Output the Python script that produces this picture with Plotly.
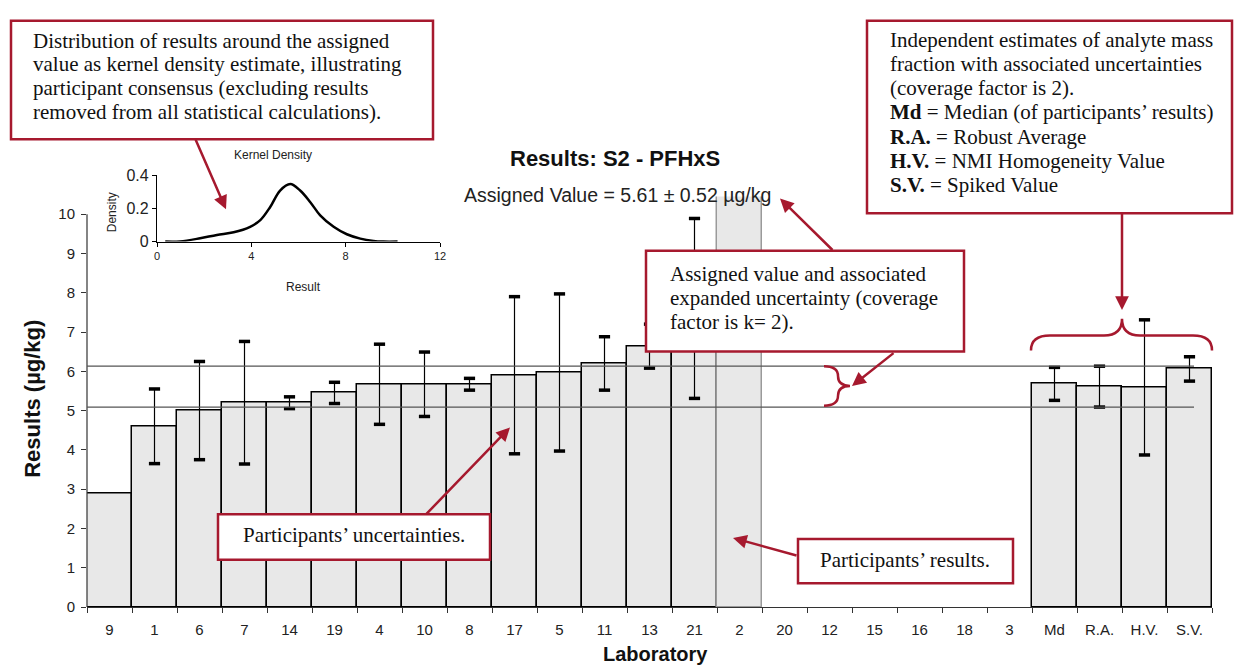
import plotly.graph_objects as go

# ---------------- data ----------------
labs = ["9", "1", "6", "7", "14", "19", "4", "10", "8", "17", "5", "11", "13", "21", "2",
        "20", "12", "15", "16", "18", "3", "Md", "R.A.", "H.V.", "S.V."]
results = [2.9, 4.6, 5.0, 5.2, 5.2, 5.45, 5.67, 5.67, 5.67, 5.9, 5.97, 6.2, 6.64, 7.6, 12.0,
           None, None, None, None, None, None, 5.68, 5.61, 5.59, 6.06]
uncert = [None, 0.95, 1.25, 1.56, 0.15, 0.27, 1.02, 0.82, 0.15, 2.0, 2.0, 0.68, 0.56, 2.29, None,
          None, None, None, None, None, None, 0.42, 0.52, 1.72, 0.31]
assigned_value = 5.61
assigned_unc = 0.52

kd_x = [0.35, 0.98, 1.83, 2.54, 3.25, 3.95, 4.38, 4.8, 5.22, 5.65, 6.07, 6.5, 6.92, 7.49,
        8.05, 8.62, 9.18, 9.6, 10.2]
kd_y = [0.0, 0.001, 0.02, 0.04, 0.056, 0.089, 0.129, 0.208, 0.307, 0.346, 0.307, 0.237,
        0.158, 0.089, 0.044, 0.018, 0.004, 0.0, 0.0]

# ---------------- geometry helpers (pixel -> paper) ----------------
W, H = 1234, 666
ML, MR, MT, MB = 87, 22, 0, 59
PW, PH = W - ML - MR, H - MT - MB


def px(x):
    return (x - ML) / PW


def py(y):
    return (H - MB - y) / PH


RED = "#A6192E"
SERIF = "Liberation Serif, Times New Roman, serif"
SANS = "Liberation Sans, Arial, sans-serif"

fig = go.Figure()

# bars
edge_cols = ["#000000"] * len(labs)
edge_cols[labs.index("2")] = "#9a9a9a"
fig.add_trace(go.Bar(
    x=labs, y=results, width=1.0,
    marker=dict(color="#E8E8E8", line=dict(color=edge_cols, width=1.5)),
    error_y=dict(type="data", array=[u if u is not None else 0 for u in uncert],
                 visible=True, color="#000000", thickness=1.2, width=0),
    showlegend=False, hoverinfo="skip",
))

# error-bar caps (bold dashes)
cap_x, cap_y = [], []
for lab, v, u in zip(labs, results, uncert):
    if v is not None and u:
        cap_x += [lab, lab]
        cap_y += [v + u, v - u]
fig.add_trace(go.Scatter(
    x=cap_x, y=cap_y, mode="markers",
    marker=dict(symbol="line-ew", size=8, line=dict(color="#000000", width=3.5)),
    showlegend=False, hoverinfo="skip", cliponaxis=False,
))

# kernel density inset
fig.add_trace(go.Scatter(
    x=kd_x, y=kd_y, mode="lines", line=dict(color="#000000", width=2.5, shape="spline"),
    xaxis="x2", yaxis="y2", showlegend=False, hoverinfo="skip",
))

fig.update_layout(
    width=W, height=H,
    margin=dict(l=ML, r=MR, t=MT, b=MB),
    paper_bgcolor="white", plot_bgcolor="rgba(0,0,0,0)",
    bargap=0,
    font=dict(family=SANS, color="#222222"),
    xaxis=dict(
        type="category", categoryorder="array", categoryarray=labs,
        range=[-0.5, len(labs) - 0.5],
        showline=True, linecolor="#333333", linewidth=1.2,
        ticks="outside", tickson="boundaries", ticklen=5, tickcolor="#333333",
        tickfont=dict(size=15, family=SANS, color="#222222"),
        ticklabelstandoff=9,
        showgrid=False, zeroline=False, domain=[0, 1],
    ),
    yaxis=dict(
        range=[0, 10.45], domain=[0, 416 / PH],
        tickvals=list(range(0, 11)), ticks="outside", ticklen=5, tickcolor="#333333",
        tickfont=dict(size=15, family=SANS, color="#222222"),
        ticklabelstandoff=3,
        showline=False, showgrid=False, zeroline=False,
    ),
    xaxis2=dict(
        domain=[px(157), px(440)], anchor="y2", range=[0, 12],
        tickvals=[0, 4, 8, 12], ticks="outside", ticklen=4,
        showline=True, linecolor="#000000", linewidth=1.2, tickcolor="#000000",
        tickfont=dict(size=11, family=SANS, color="#222222"),
        showgrid=False, zeroline=False,
    ),
    yaxis2=dict(
        domain=[py(236.7), py(169.3)], anchor="x2", range=[0, 0.4],
        tickvals=[0, 0.2, 0.4], ticktext=["0", "0.2", "0.4"], ticks="outside", ticklen=4,
        showline=True, linecolor="#000000", linewidth=1.2, tickcolor="#000000",
        tickfont=dict(size=16, family=SANS, color="#222222"),
        showgrid=False, zeroline=False,
    ),
)

shapes = []
# main y-axis line (from 0 to 10)
shapes.append(dict(type="line", xref="paper", yref="y", x0=0, x1=0, y0=0, y1=10,
                   line=dict(color="#333333", width=1.2), layer="above"))
# assigned value +- uncertainty lines
for yv in (assigned_value + assigned_unc, assigned_value - assigned_unc):
    shapes.append(dict(type="line", xref="x", yref="y", x0=-0.5, x1=24.1, y0=yv, y1=yv,
                       line=dict(color="#555555", width=1.3), layer="above"))


def rect(x0, y0, x1, y1):
    return dict(type="rect", xref="paper", yref="paper",
                x0=px(x0), x1=px(x1), y0=py(y1), y1=py(y0),
                line=dict(color=RED, width=2.5), fillcolor="white", layer="above")


shapes += [rect(11, 13, 433, 133), rect(867, 13, 1232, 208), rect(646, 246, 964, 348),
           rect(218, 513, 490, 559), rect(798, 538, 1013, 583)]


def path(pts_cmds):
    s = ""
    for cmd, coords in pts_cmds:
        s += cmd + " " + " ".join(f"{px(coords[i]):.5f},{py(coords[i + 1]):.5f}"
                                  for i in range(0, len(coords), 2)) + " "
    return s.strip()


# large brace over Md..S.V.
big = path([("M", (1031, 347)), ("Q", (1031, 332, 1050, 332)), ("L", (1104, 332)),
            ("Q", (1122, 332, 1122, 315)), ("Q", (1122, 332, 1140, 332)), ("L", (1193, 332)),
            ("Q", (1212, 332, 1212, 347))])
shapes.append(dict(type="path", xref="paper", yref="paper", path=big,
                   line=dict(color=RED, width=2.5), layer="above"))
# small brace for assigned-value band
small = path([("M", (824, 363)), ("Q", (838, 363, 838, 373)), ("Q", (838, 383, 850, 383)),
              ("Q", (838, 383, 838, 393)), ("Q", (838, 403, 824, 403))])
shapes.append(dict(type="path", xref="paper", yref="paper", path=small,
                   line=dict(color=RED, width=2.5), layer="above"))
fig.update_layout(shapes=shapes)

ann = []


def text(x, y, s, size=21, family=SERIF, xanchor="left", bold=False, color="#111111",
         textangle=0):
    ann.append(dict(x=px(x), y=py(y), xref="paper", yref="paper", text=(f"<b>{s}</b>" if bold else s),
                    showarrow=False, xanchor=xanchor, yanchor="middle", textangle=textangle,
                    font=dict(size=size, family=family, color=color)))


def arrow(hx, hy, tx, ty):
    ann.append(dict(x=px(hx), y=py(hy), xref="paper", yref="paper", text="",
                    showarrow=True, ax=tx - hx, ay=ty - hy, axref="pixel", ayref="pixel",
                    arrowhead=2, arrowsize=1.1, arrowwidth=2.5, arrowcolor=RED, standoff=0))


box1 = ["Distribution of results around the assigned",
        "value as kernel density estimate, illustrating",
        "participant consensus (excluding results",
        "removed from all statistical calculations)."]
for i, line in enumerate(box1):
    text(31, 33 + 24 * i, line)

box2 = ["Independent estimates of analyte mass",
        "fraction with associated uncertainties",
        "(coverage factor is 2).",
        "<b>Md</b> = Median (of participants’ results)",
        "<b>R.A.</b> = Robust Average",
        "<b>H.V.</b> = NMI Homogeneity Value",
        "<b>S.V.</b> = Spiked Value"]
for i, line in enumerate(box2):
    text(888, 32 + 24.6 * i, line)

box3 = ["Assigned value and associated",
        "expanded uncertainty (coverage",
        "factor is k= 2)."]
for i, line in enumerate(box3):
    text(668, 270 + 24 * i, line)

text(354, 534, "Participants’ uncertainties.", xanchor="center")
text(905, 559, "Participants’ results.", xanchor="center")

# titles
text(615, 153, "Results: S2 - PFHxS", size=22, family=SANS, xanchor="center", bold=True)
text(617, 189, "Assigned Value = 5.61 ± 0.52 µg/kg", size=19.5, family=SANS, xanchor="center",
     color="#222222")
text(655, 655, "Laboratory", size=20, family=SANS, xanchor="center", bold=True)
text(33, 396, "Results (µg/kg)", size=22, family=SANS, xanchor="center", bold=True, textangle=-90)

# inset titles
text(273, 149, "Kernel Density", size=12, family=SANS, xanchor="center", color="#222222")
text(303, 283, "Result", size=12, family=SANS, xanchor="center", color="#222222")
text(112, 207, "Density", size=12, family=SANS, xanchor="center", color="#222222", textangle=-90)

# arrows
arrow(226, 204, 195, 133)
arrow(780, 193, 834, 246)
arrow(852, 383, 895, 349)
arrow(510, 425, 425, 513)
arrow(733, 537, 798, 555)
arrow(1122, 306, 1122, 208)

fig.update_layout(annotations=ann)

fig.write_html("out.html")
